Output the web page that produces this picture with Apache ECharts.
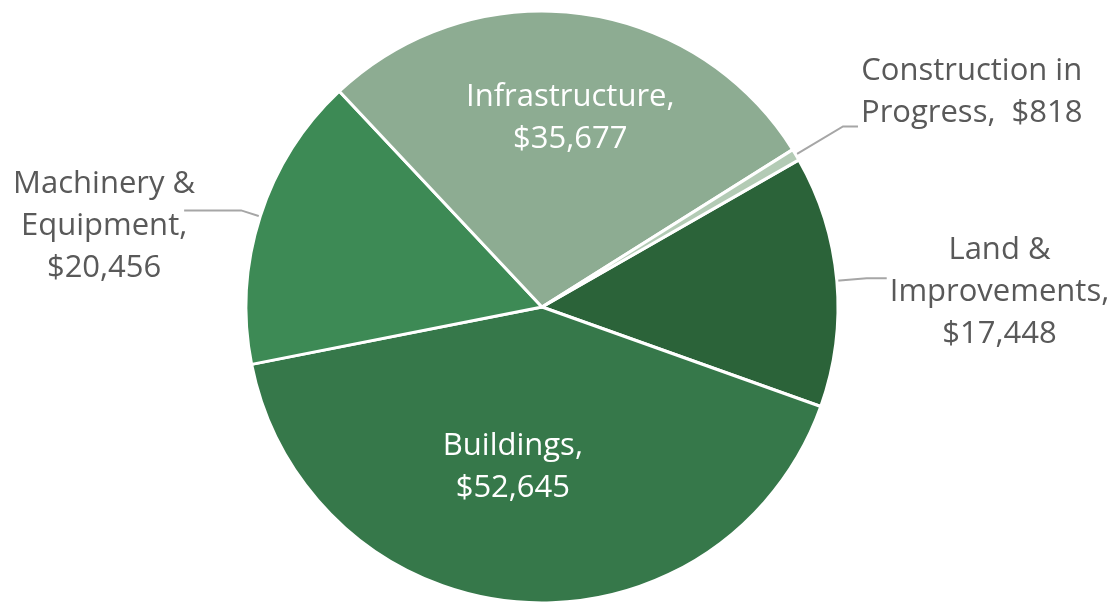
<!DOCTYPE html>
<html><head><meta charset="utf-8">
<script src="https://cdn.jsdelivr.net/npm/echarts@6/dist/echarts.min.js"></script>
<style>html,body{margin:0;padding:0;background:#fff}#chart{width:1112px;height:602px}</style>
</head><body><div id="chart"></div>
<script>
const categories = ['Land &\nImprovements', 'Buildings', 'Machinery &\nEquipment', 'Infrastructure', 'Construction in\nProgress'];
const values = [17448, 52645, 20456, 35677, 818];
const colors = ['#2b6339', '#36784a', '#3d8a55', '#8dac92', '#b3cbb5'];
const separators = [',\n', ',\n', ',\n', ',\n', ',  '];
const insideLabel = [false, true, false, true, false];
const lineLengths = [[30, 20], [0, 0], [20, 57], [0, 0], [55, 15]];
// label block placement relative to library-computed geometry
const labelShift = [[3, -49], [-18, 4], [11, -47], [9, -45], [3, -76]];

const data = categories.map((name, i) => ({
  name: name,
  value: values[i],
  itemStyle: { color: colors[i] },
  label: insideLabel[i]
    ? { position: 'inside', rich: { a: { color: '#ffffff', align: 'center', fontSize: 31, lineHeight: 42, fontFamily: 'Open Sans' } } }
    : { position: 'outside' },
  labelLine: { show: !insideLabel[i], length: lineLengths[i][0], length2: lineLengths[i][1] }
}));

const chart = echarts.init(document.getElementById('chart'));
chart.setOption({
  animation: false,
  backgroundColor: '#ffffff',
  series: [{
    type: 'pie',
    center: [542, 307],
    radius: [0, 296],
    startAngle: 29.8,
    clockwise: true,
    avoidLabelOverlap: false,
    selectedMode: false,
    emphasis: { disabled: true },
    itemStyle: { borderColor: '#ffffff', borderWidth: 3 },
    label: {
      show: true,
      overflow: 'none',
      formatter: function (p) {
        const txt = p.name + separators[p.dataIndex] + '$' + p.value.toLocaleString('en-US');
        return txt.split('\n').map(l => '{a|' + l + '}').join('\n');
      },
      rich: { a: { color: '#595959', align: 'center', fontSize: 31, lineHeight: 42, fontFamily: 'Open Sans' } }
    },
    labelLine: { lineStyle: { color: '#a6a6a6', width: 2 }, smooth: false },
    labelLayout: function (p) {
      const i = p.dataIndex, s = labelShift[i], r = p.labelRect;
      if (insideLabel[i]) {
        return { x: r.x + s[0], y: r.y + s[1], align: 'left', verticalAlign: 'top' };
      }
      const pts = p.labelLinePoints;
      const end = pts[pts.length - 1];
      const left = end[0] < pts[0][0];
      return {
        x: left ? end[0] + s[0] - r.width : end[0] + s[0],
        y: end[1] + s[1],
        align: 'left', verticalAlign: 'top',
        labelLinePoints: pts
      };
    },
    data: data
  }]
});
</script></body></html>
